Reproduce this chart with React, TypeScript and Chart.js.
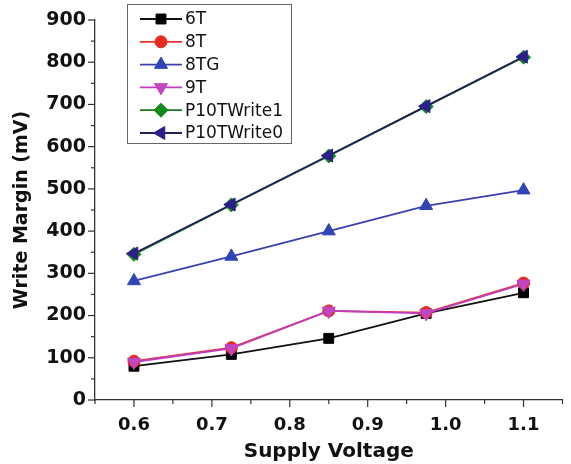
import React, { useEffect, useRef } from "react";
import { Chart, registerables } from "chart.js";
import { drawPoint } from "chart.js/helpers";

Chart.register(...registerables);

const voltages = [0.6, 0.725, 0.85, 0.975, 1.1];
const seriesNames = ["6T", "8T", "8TG", "9T", "P10TWrite1", "P10TWrite0"];
const v6T = [80, 108, 146, 205, 254];
const v8T = [92, 124, 211, 207, 277];
const v8TG = [282, 340, 400, 460, 497];
const v9T = [90, 122, 211, 205, 275];
const vP10W1 = [345, 462, 578, 695, 812];
const vP10W0 = [347, 463, 579, 696, 813];

const FONT = "'DejaVu Sans', Arial, sans-serif";

const styles = [
  { line: "#111111", fill: "#000000", point: "rect", rot: 0, r: 7 },
  { line: "#e8352a", fill: "#e62a1e", point: "circle", rot: 0, r: 6 },
  { line: "#3b42b0", fill: "#2f44b5", point: "triangle", rot: 0, r: 7.5 },
  { line: "#c03cc0", fill: "#c246c4", point: "triangle", rot: 180, r: 7.5 },
  { line: "#1a7a1a", fill: "#108a18", point: "rectRot", rot: 0, r: 7 },
  { line: "#1f1f55", fill: "#2c1f8c", point: "triangle", rot: -90, r: 7.5 },
];

const allValues = [v6T, v8T, v8TG, v9T, vP10W1, vP10W0];

const isMajor = (v: number, step: number) => {
  const q = v / step;
  return Math.abs(q - Math.round(q)) < 1e-6;
};

const tickPlugin = {
  id: "customTicks",
  afterDraw(chart: any) {
    const ctx = chart.ctx;
    const xs = chart.scales.x;
    const ys = chart.scales.y;
    ctx.save();
    ctx.strokeStyle = "#333";
    ctx.lineWidth = 1.2;
    xs.ticks.forEach((t: any) => {
      const px = xs.getPixelForValue(t.value);
      const len = isMajor(t.value, 0.1) ? 7 : 4;
      ctx.beginPath();
      ctx.moveTo(px, ys.bottom);
      ctx.lineTo(px, ys.bottom + len);
      ctx.stroke();
    });
    ys.ticks.forEach((t: any) => {
      const py = ys.getPixelForValue(t.value);
      const len = isMajor(t.value, 100) ? 7 : 4;
      ctx.beginPath();
      ctx.moveTo(xs.left, py);
      ctx.lineTo(xs.left - len, py);
      ctx.stroke();
    });
    // legend
    ctx.strokeStyle = "#666";
    ctx.lineWidth = 1;
    ctx.fillStyle = "#fff";
    ctx.fillRect(127, 4, 164, 139);
    ctx.strokeRect(127.5, 4.5, 164, 139);
    seriesNames.forEach((name, i) => {
      const y = 19 + i * 22.8;
      const s = styles[i];
      ctx.strokeStyle = s.line;
      ctx.lineWidth = 1.8;
      ctx.beginPath();
      ctx.moveTo(140, y);
      ctx.lineTo(182, y);
      ctx.stroke();
      ctx.fillStyle = s.fill;
      ctx.strokeStyle = s.fill;
      ctx.lineWidth = 1;
      drawPoint(ctx, { pointStyle: s.point, rotation: s.rot, radius: s.r, borderWidth: 1 }, 161, y);
      ctx.fillStyle = "#111";
      ctx.font = `17px ${FONT}`;
      ctx.textBaseline = "middle";
      ctx.textAlign = "left";
      ctx.fillText(name, 185, y + 1);
    });
    ctx.restore();
  },
};

export default function App() {
  const ref = useRef<HTMLCanvasElement | null>(null);
  useEffect(() => {
    if (!ref.current) return;
    const datasets = seriesNames.map((name, i) => ({
      label: name,
      data: voltages.map((x, j) => ({ x, y: allValues[i][j] })),
      borderColor: styles[i].line,
      backgroundColor: styles[i].fill,
      pointBackgroundColor: styles[i].fill,
      pointBorderColor: styles[i].fill,
      pointStyle: styles[i].point,
      rotation: styles[i].rot,
      pointRadius: styles[i].r,
      borderWidth: 1.8,
      pointBorderWidth: 1,
      order: 10 - i,
      tension: 0,
    }));
    const chart = new Chart(ref.current, {
      type: "line",
      data: { datasets },
      options: {
        animation: false,
        responsive: true,
        maintainAspectRatio: false,
        layout: { padding: { top: 20, right: 0, left: 0, bottom: 0 } },
        plugins: { legend: { display: false }, tooltip: { enabled: false } },
        scales: {
          x: {
            type: "linear",
            min: 0.55,
            max: 1.15,
            afterFit: (s: any) => { s.height = 64; },
            ticks: {
              stepSize: 0.05,
              autoSkip: false,
              maxRotation: 0,
              padding: 8,
              color: "#111",
              font: { family: FONT, size: 18, weight: "bold" },
              callback: (v: any) => (isMajor(Number(v), 0.1) ? Number(v).toFixed(1) : ""),
            },
            grid: { drawOnChartArea: false, tickLength: 7, tickColor: "transparent" },
            border: { display: true, color: "#333", width: 1.3 },
            title: {
              display: true,
              text: "Supply Voltage",
              color: "#111",
              font: { family: FONT, size: 20, weight: "bold" },
              padding: { top: 3, bottom: 0 },
            },
          },
          y: {
            min: 0,
            max: 900,
            afterFit: (s: any) => { s.width = 95; },
            ticks: {
              stepSize: 50,
              autoSkip: false,
              padding: 2,
              color: "#111",
              font: { family: FONT, size: 19, weight: "bold" },
              callback: (v: any) => (isMajor(Number(v), 100) ? String(v) : ""),
            },
            grid: { drawOnChartArea: false, tickLength: 7, tickColor: "transparent" },
            border: { display: true, color: "#333", width: 1.3 },
            title: {
              display: true,
              text: "Write Margin (mV)",
              color: "#111",
              font: { family: FONT, size: 19, weight: "bold" },
              padding: { top: 11, bottom: 0 },
            },
          },
        },
      },
      plugins: [tickPlugin],
    });
    return () => chart.destroy();
  }, []);
  return (
    <div style={{ position: "absolute", left: 0, top: 0, width: 571, height: 464 }}>
      <canvas ref={ref} />
    </div>
  );
}
